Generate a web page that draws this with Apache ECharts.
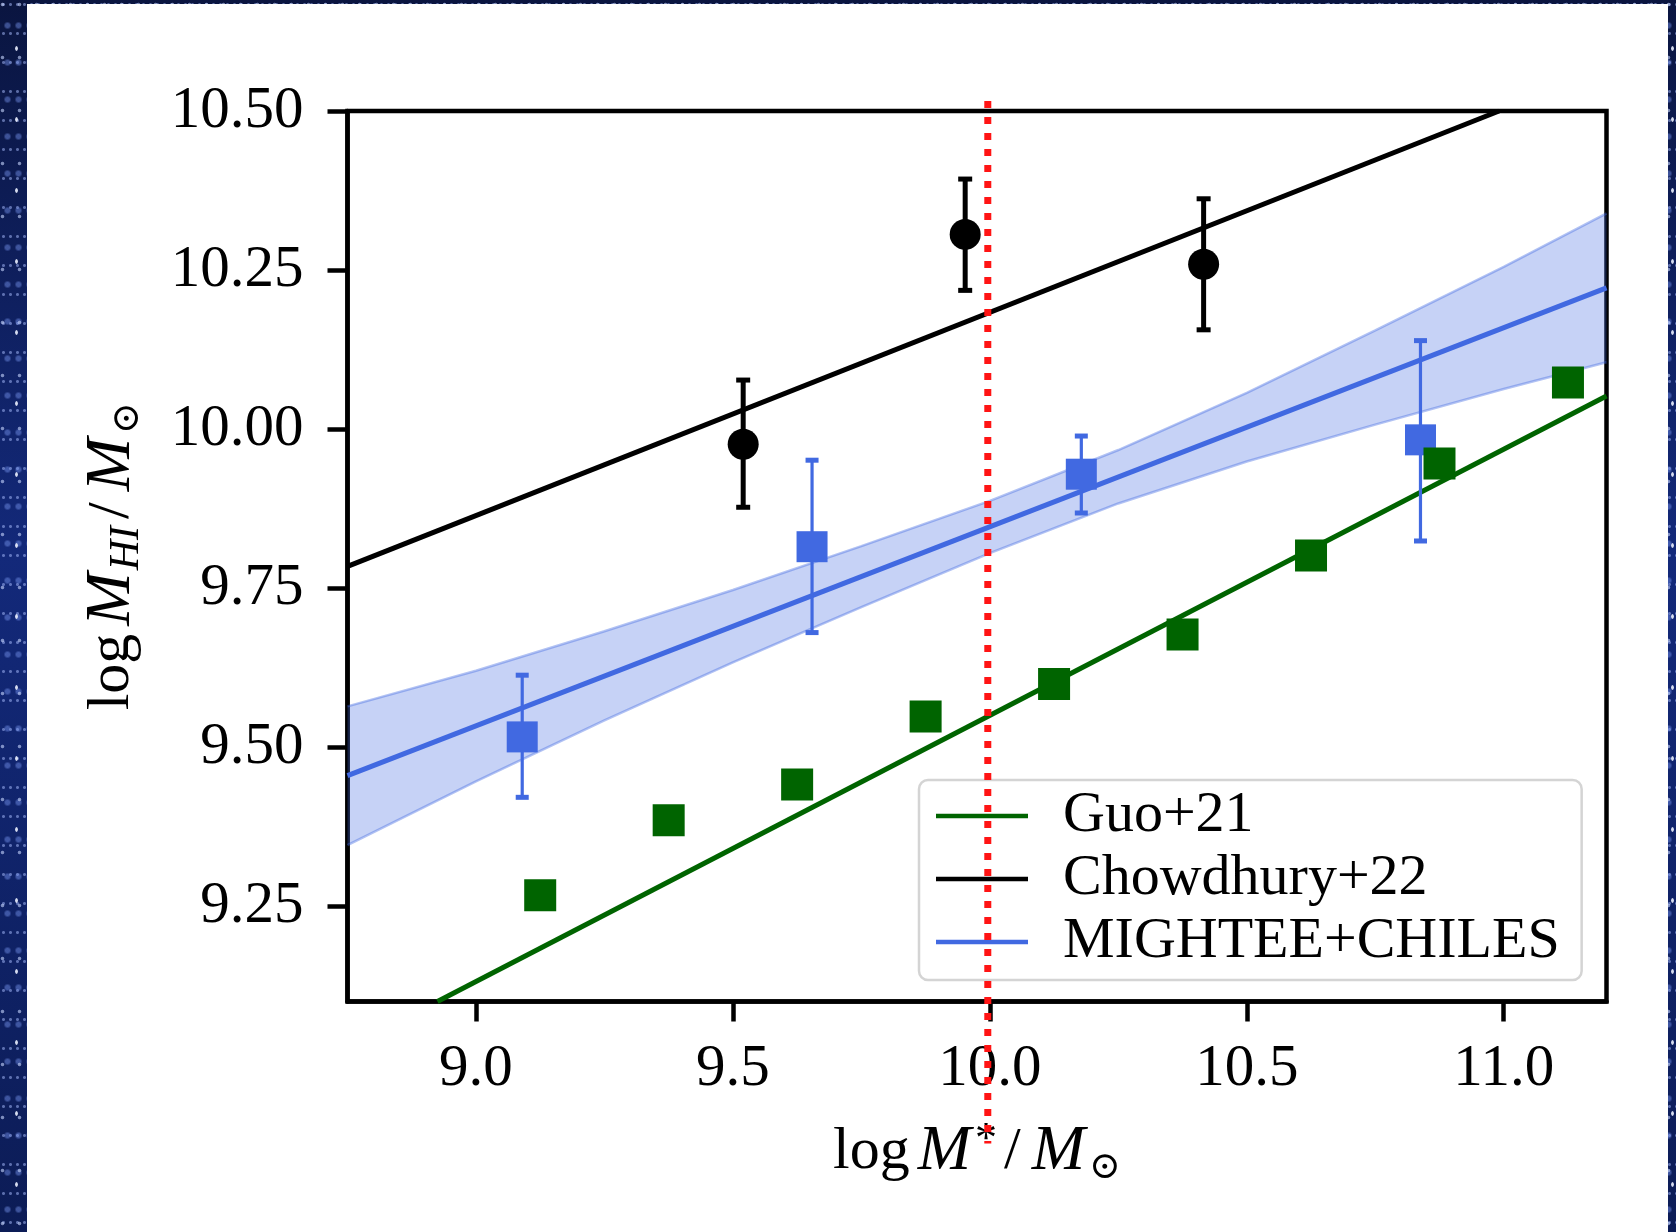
<!DOCTYPE html>
<html>
<head>
<meta charset="utf-8">
<script src="https://cdn.jsdelivr.net/npm/echarts@6/dist/echarts.min.js"></script>
<style>
  html, body { margin: 0; padding: 0; width: 1676px; height: 1232px; overflow: hidden; }
  body {
    background-color: #0f2163;
    background-image:
      radial-gradient(ellipse 1.6px 3px, rgba(235,240,255,0.9) 0 60%, transparent 100%),
      radial-gradient(circle, rgba(200,215,255,0.6) 0 1.3px, transparent 2.2px),
      radial-gradient(circle, rgba(120,150,240,0.45) 0 2px, transparent 4px),
      radial-gradient(circle, rgba(170,190,255,0.5) 0 1px, transparent 2px),
      linear-gradient(180deg, #0a1540 0%, #13297a 45%, #0c1c56 100%);
    background-size: 23px 71px, 17px 53px, 11px 37px, 7px 29px, 100% 100%;
    background-position: 5px 13px, 11px 31px, 2px 7px, 14px 19px, 0 0;
  }
  #panel { position: absolute; left: 27px; top: 4px; width: 1641px; height: 1228px; background: #ffffff; }
  #c { position: absolute; left: 0; top: 0; width: 1676px; height: 1232px; }
</style>
</head>
<body>
<div id="panel"></div>
<div id="c"></div>
<script>
// ---------------- data ----------------
const xTicks = [9.0, 9.5, 10.0, 10.5, 11.0];
const xTickLabels = ['9.0', '9.5', '10.0', '10.5', '11.0'];
const yTicks = [9.25, 9.50, 9.75, 10.00, 10.25, 10.50];
const yTickLabels = ['9.25', '9.50', '9.75', '10.00', '10.25', '10.50'];
const xRange = [8.75, 11.2];
const yRange = [9.10, 10.50];

// Guo+21 (green squares + line)
const guoX = [9.125, 9.375, 9.625, 9.875, 10.125, 10.375, 10.625, 10.875, 11.125];
const guoY = [9.267, 9.385, 9.441, 9.548, 9.599, 9.677, 9.801, 9.946, 10.073];
const guoLineX = [8.925, 11.2];
const guoLineY = [9.10, 10.052];

// Chowdhury+22 (black circles + line)
const chowX = [9.520, 9.952, 10.416];
const chowY = [9.976, 10.306, 10.259];
const chowLo = [9.877, 10.218, 10.156];
const chowHi = [10.077, 10.393, 10.362];
const chowLineX = [8.75, 10.991];
const chowLineY = [9.784, 10.50];

// MIGHTEE+CHILES (blue squares + fit + band)
const mcX = [9.090, 9.654, 10.178, 10.838];
const mcY = [9.516, 9.815, 9.929, 9.983];
const mcLo = [9.421, 9.680, 9.868, 9.824];
const mcHi = [9.613, 9.951, 9.989, 10.139];
const mcLineX = [8.75, 11.2];
const mcLineY = [9.455, 10.222];
const bandX = [8.75, 9.0, 9.25, 9.5, 9.75, 10.0, 10.25, 10.5, 10.75, 11.0, 11.2];
const bandUpper = [9.564, 9.620, 9.682, 9.747, 9.816, 9.887, 9.967, 10.057, 10.155, 10.255, 10.339];
const bandLower = [9.346, 9.446, 9.542, 9.633, 9.720, 9.805, 9.883, 9.949, 10.007, 10.063, 10.105];

const markX = 9.996; // red dotted reference line

// ---------------- styles ----------------
const FONT = '"Liberation Serif", "DejaVu Serif", "DejaVu Sans", serif';
const FS = 59;
const SUB = 42;
const GREEN = '#006400';
const BLUE = '#4169e1';
const BLACK = '#000000';
const LW = 5;

const zip = (a, b) => a.map((v, i) => [v, b[i]]);

function errRender(color, stemW, capW, capLW) {
  return function (params, api) {
    const x = api.value(0), lo = api.value(1), hi = api.value(2);
    const pLo = api.coord([x, lo]);
    const pHi = api.coord([x, hi]);
    return {
      type: 'group',
      children: [
        { type: 'line', shape: { x1: pLo[0], y1: pLo[1], x2: pHi[0], y2: pHi[1] }, style: { stroke: color, lineWidth: stemW } },
        { type: 'line', shape: { x1: pLo[0] - capW / 2, y1: pLo[1], x2: pLo[0] + capW / 2, y2: pLo[1] }, style: { stroke: color, lineWidth: capLW } },
        { type: 'line', shape: { x1: pHi[0] - capW / 2, y1: pHi[1], x2: pHi[0] + capW / 2, y2: pHi[1] }, style: { stroke: color, lineWidth: capLW } }
      ]
    };
  };
}

function bandRender(params, api) {
  if (params.dataIndex !== 0) return null;
  const pts = [];
  for (let i = 0; i < bandX.length; i++) pts.push(api.coord([bandX[i], bandUpper[i]]));
  for (let i = bandX.length - 1; i >= 0; i--) pts.push(api.coord([bandX[i], bandLower[i]]));
  return { type: 'polygon', shape: { points: pts }, style: { fill: 'rgba(65,105,225,0.3)' } };
}

const rich = {
  n: { fontFamily: FONT, fontSize: 60, color: '#000', verticalAlign: 'middle' },
  sl: { fontFamily: FONT, fontSize: 60, color: '#000', verticalAlign: 'middle', padding: [0, 3, 0, 5] },
  i: { fontFamily: FONT, fontSize: 64, fontStyle: 'italic', color: '#000', verticalAlign: 'middle', padding: [0, 2, 0, 8] },
  si: { fontFamily: FONT, fontSize: SUB, fontStyle: 'italic', color: '#000', verticalAlign: 'middle', padding: [28, 2, 0, 0] },
  so: { fontFamily: '"DejaVu Serif", "DejaVu Sans", serif', fontSize: 38, color: '#000', verticalAlign: 'middle', padding: [32, 0, 0, 2] },
  sup: { fontFamily: FONT, fontSize: 44, color: '#000', verticalAlign: 'middle', padding: [0, 2, 24, 2] }
};

const chart = echarts.init(document.getElementById('c'), null, { renderer: 'canvas' });

const option = {
  animation: false,
  backgroundColor: 'transparent',
  textStyle: { fontFamily: FONT },
  grid: {
    left: 347.5, right: 69.5, top: 111, bottom: 230.5,
    show: true, borderColor: '#000', borderWidth: 4.5, backgroundColor: '#fff'
  },
  xAxis: {
    type: 'value', min: xRange[0], max: xRange[1],
    splitLine: { show: false },
    axisLine: { show: true, onZero: false, lineStyle: { color: '#000', width: 4.5 } },
    axisTick: { show: true, inside: false, length: 20, lineStyle: { color: '#000', width: 4.5 }, customValues: xTicks },
    axisLabel: {
      customValues: xTicks, margin: 38, color: '#000', fontFamily: FONT, fontSize: FS,
      formatter: v => xTickLabels[xTicks.findIndex(t => Math.abs(t - v) < 1e-6)] ?? ''
    },
    name: '{n|log}{i|M}{sup|*}{sl|/}{i|M}{so|⊙}',
    nameLocation: 'middle', nameGap: 116,
    nameTextStyle: { rich: rich }
  },
  yAxis: {
    type: 'value', min: yRange[0], max: yRange[1],
    splitLine: { show: false },
    axisLine: { show: true, onZero: false, lineStyle: { color: '#000', width: 4.5 } },
    axisTick: { show: true, inside: false, length: 20, lineStyle: { color: '#000', width: 4.5 }, customValues: yTicks },
    axisLabel: {
      customValues: yTicks, margin: 44, color: '#000', fontFamily: FONT, fontSize: FS,
      formatter: v => yTickLabels[yTicks.findIndex(t => Math.abs(t - v) < 1e-6)] ?? ''
    },
    name: '{n|log}{i|M}{si|HI}{sl|/}{i|M}{so|⊙}',
    nameLocation: 'middle', nameRotate: 90, nameGap: 200,
    nameTextStyle: { rich: rich }
  },
  legend: {
    orient: 'vertical',
    left: 919, top: 780,
    data: [
      { name: 'Guo+21', icon: 'rect' },
      { name: 'Chowdhury+22', icon: 'rect' },
      { name: 'MIGHTEE+CHILES', icon: 'rect' }
    ],
    itemWidth: 92, itemHeight: 4.5, itemGap: 3,
    padding: [6, 22, 8, 17],
    backgroundColor: '#ffffff',
    borderColor: '#d4d4d4', borderWidth: 2.5, borderRadius: 9,
    selectedMode: false,
    textStyle: { fontFamily: FONT, fontSize: 58, color: '#000', lineHeight: 60, padding: [0, 0, 0, 30] }
  },
  series: [
    { name: 'band', type: 'custom', z: 1, silent: true, renderItem: bandRender,
      encode: { x: 0, y: [1, 2] },
      data: bandX.map((x, i) => [x, bandLower[i], bandUpper[i]]) },
    { name: 'bandUp', type: 'line', z: 1, silent: true, showSymbol: false, symbol: 'none',
      data: zip(bandX, bandUpper), lineStyle: { color: 'rgba(65,105,225,0.4)', width: 2.5 } },
    { name: 'bandLow', type: 'line', z: 1, silent: true, showSymbol: false, symbol: 'none',
      data: zip(bandX, bandLower), lineStyle: { color: 'rgba(65,105,225,0.4)', width: 2.5 } },
    { name: 'Guo+21', type: 'line', z: 2, color: GREEN, showSymbol: false, symbol: 'none',
      data: zip(guoLineX, guoLineY), lineStyle: { color: GREEN, width: LW } },
    { name: 'Chowdhury+22', type: 'line', z: 2, color: BLACK, showSymbol: false, symbol: 'none',
      data: zip(chowLineX, chowLineY), lineStyle: { color: BLACK, width: LW } },
    { name: 'MIGHTEE+CHILES', type: 'line', z: 2, color: BLUE, showSymbol: false, symbol: 'none',
      data: zip(mcLineX, mcLineY), lineStyle: { color: BLUE, width: LW } },
    { name: 'chowErr', type: 'custom', z: 3, silent: true, renderItem: errRender(BLACK, 5, 14, 5),
      encode: { x: 0, y: [1, 2] }, data: chowX.map((x, i) => [x, chowLo[i], chowHi[i]]) },
    { name: 'mcErr', type: 'custom', z: 3, silent: true, renderItem: errRender(BLUE, 3.2, 13, 5),
      encode: { x: 0, y: [1, 2] }, data: mcX.map((x, i) => [x, mcLo[i], mcHi[i]]) },
    { name: 'chowPts', type: 'scatter', z: 3, symbol: 'circle', symbolSize: 31,
      itemStyle: { color: BLACK, opacity: 1 }, data: zip(chowX, chowY) },
    { name: 'mcPts', type: 'scatter', z: 3, symbol: 'rect', symbolSize: 31,
      itemStyle: { color: BLUE, opacity: 1 }, data: zip(mcX, mcY) },
    { name: 'guoPts', type: 'scatter', z: 3, symbol: 'rect', symbolSize: 32,
      itemStyle: { color: GREEN, opacity: 1 }, data: zip(guoX, guoY) }
  ]
};

chart.setOption(option);

// red dotted vertical reference line (annotation drawn over the figure)
const px = chart.convertToPixel({ xAxisIndex: 0 }, markX);
const yTopPx = chart.convertToPixel({ yAxisIndex: 0 }, yRange[1]) - 10;
const yBotPx = chart.convertToPixel({ yAxisIndex: 0 }, yRange[0]) + 142;
chart.setOption({
  graphic: [{
    type: 'line', z: 100, silent: true,
    shape: { x1: px, y1: yTopPx, x2: px, y2: yBotPx },
    style: { stroke: '#ff1414', lineWidth: 7, lineDash: [7, 9] }
  }]
});
</script>
</body>
</html>
